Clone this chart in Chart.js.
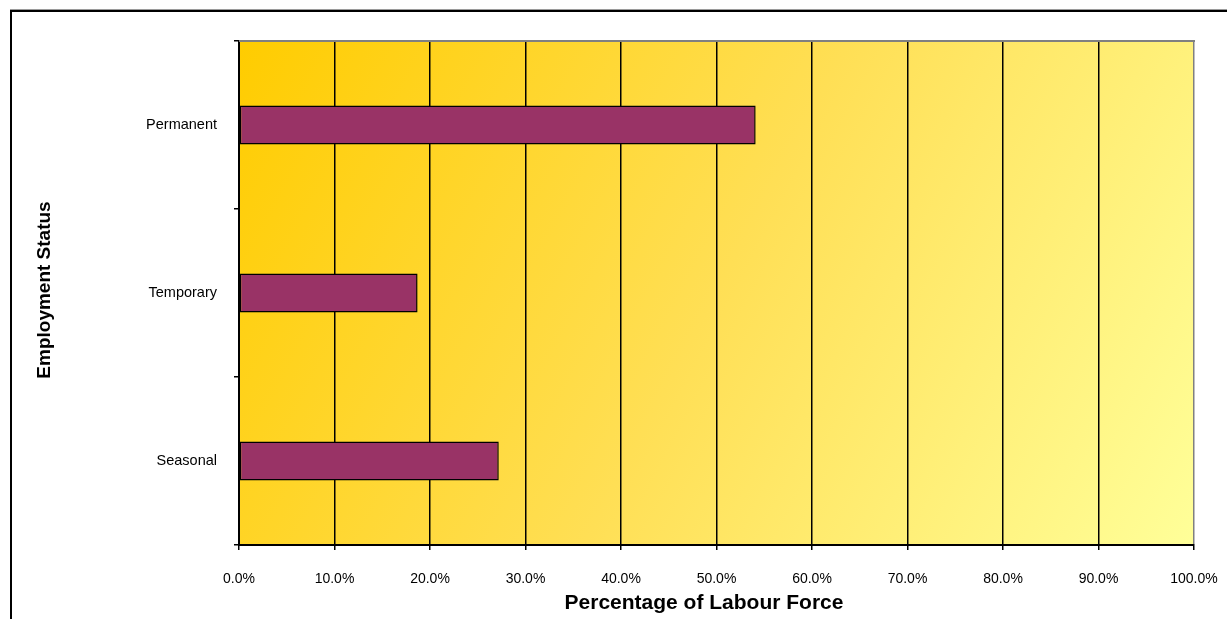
<!DOCTYPE html>
<html>
<head>
<meta charset="utf-8">
<script src="https://cdn.jsdelivr.net/npm/chart.js@4/dist/chart.umd.min.js"></script>
<style>
  html, body { margin: 0; padding: 0; background: #fff; overflow: hidden; }
  #frame {
    position: absolute; left: 10px; top: 10px; width: 1400px; height: 800px;
    border-top: 2px solid #000; border-left: 2px solid #000;
    box-shadow: 0 -1px 0 #9a9a9a;
  }
  #wrap { position: absolute; left: 0; top: 0; width: 1227px; height: 619px; }
</style>
</head>
<body>
<div id="frame"></div>
<div id="wrap"><canvas id="chart" width="1227" height="619"></canvas></div>
<script>
// Employment status categories and their share of the labour force (%)
const categories = ['Permanent', 'Temporary', 'Seasonal'];
const shareOfLabourForce = [54.1, 18.7, 27.2];
const xTickStep = 10;
const xMax = 100;
const xAxisTitle = 'Percentage of Labour Force';
const yAxisTitle = 'Employment Status';

const FONT = '"Liberation Sans", Arial, Helvetica, sans-serif';

// Golden diagonal wash behind the plot, plus the grey top frame edge
const plotBackground = {
  id: 'plotBackground',
  beforeDraw(chart) {
    const { ctx, chartArea: a } = chart;
    const g = ctx.createLinearGradient(a.left, a.top, a.right, a.bottom);
    g.addColorStop(0, '#ffcc00');
    g.addColorStop(0.5, '#ffdf55');
    g.addColorStop(1, '#ffff99');
    ctx.save();
    ctx.fillStyle = g;
    ctx.fillRect(a.left, a.top, a.right - a.left, a.bottom - a.top);
    ctx.restore();
  },
  afterDraw(chart) {
    const { ctx, chartArea: a } = chart;
    ctx.save();
    ctx.strokeStyle = '#808080';
    ctx.lineWidth = 2;
    ctx.beginPath();
    ctx.moveTo(a.left, a.top);
    ctx.lineTo(a.right + 1, a.top);
    ctx.stroke();
    ctx.restore();
  }
};

// Axis titles placed under / beside the plot
const axisTitles = {
  id: 'axisTitles',
  afterDraw(chart) {
    const { ctx, chartArea: a } = chart;
    ctx.save();
    ctx.fillStyle = '#000';
    ctx.textAlign = 'center';
    ctx.textBaseline = 'middle';
    ctx.font = 'bold 21px ' + FONT;
    ctx.fillText(xAxisTitle, 704, 603);
    ctx.font = 'bold 19px ' + FONT;
    ctx.translate(45, (a.top + a.bottom) / 2 - 3);
    ctx.rotate(-Math.PI / 2);
    ctx.fillText(yAxisTitle, 0, 0);
    ctx.restore();
  }
};

new Chart(document.getElementById('chart'), {
  type: 'bar',
  data: {
    labels: categories,
    datasets: [{
      data: shareOfLabourForce,
      backgroundColor: '#993366',
      borderColor: '#000',
      borderWidth: 1.5,
      borderSkipped: false,
      barPercentage: 0.232,
      categoryPercentage: 1
    }]
  },
  options: {
    indexAxis: 'y',
    responsive: false,
    animation: false,
    events: [],
    layout: { padding: { left: 0, top: 41, right: 33, bottom: 0 } },
    plugins: {
      legend: { display: false },
      tooltip: { enabled: false },
      title: { display: false }
    },
    scales: {
      x: {
        type: 'linear',
        min: 0,
        max: xMax,
        afterFit(scale) {
          scale.height = 74;
          scale.paddingLeft = 0;
          scale.paddingRight = 0;
        },
        ticks: {
          stepSize: xTickStep,
          padding: 21,
          color: '#000',
          font: { family: FONT, size: 14 },
          callback: (v) => Number(v).toFixed(1) + '%'
        },
        grid: {
          color: (c) => (c.index === xMax / xTickStep ? '#808080' : '#000'),
          lineWidth: 1.5,
          tickLength: 5,
          tickColor: '#000'
        },
        border: { color: '#000', width: 2 }
      },
      y: {
        type: 'category',
        afterFit(scale) {
          scale.width = 239;
          scale.paddingTop = 0;
          scale.paddingBottom = 0;
        },
        ticks: {
          padding: 17,
          color: '#000',
          font: { family: FONT, size: 14.5 }
        },
        grid: {
          offset: true,
          drawOnChartArea: false,
          tickLength: 5,
          color: '#000',
          lineWidth: 1.5
        },
        border: { color: '#000', width: 2 }
      }
    }
  },
  plugins: [plotBackground, axisTitles]
});
</script>
</body>
</html>
